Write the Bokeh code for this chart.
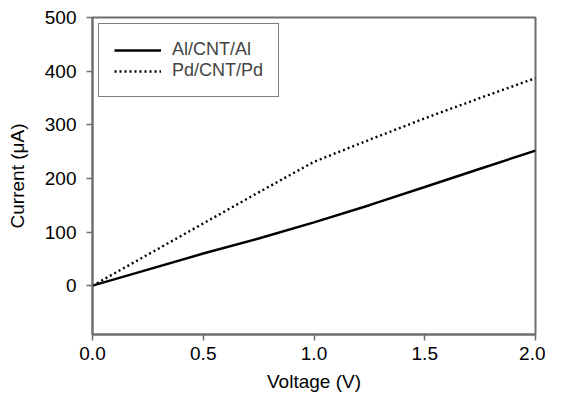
from bokeh.plotting import figure
from bokeh.models import FixedTicker, Range1d, Legend, LegendItem
from bokeh.embed import file_html
from bokeh.resources import INLINE

voltage = [0.0, 0.25, 0.5, 0.75, 1.0, 1.25, 1.5, 1.75, 2.0]
al_current = [0, 30, 60, 88, 118, 150, 184, 218, 252]
pd_current = [0, 58, 116, 174, 231, 272, 312, 350, 387]
x_ticks = [0.0, 0.5, 1.0, 1.5, 2.0]
y_ticks = [0, 100, 200, 300, 400, 500]

FONT = "Liberation Sans"
GRAY = "#6e6e6e"

p = figure(frame_width=443, frame_height=317, output_backend="svg", toolbar_location=None,
           x_range=Range1d(0, 2.0), y_range=Range1d(-91, 500),
           min_border_left=92, min_border_right=10, min_border_top=17, min_border_bottom=65)

r1 = p.line(voltage, al_current, line_color="black", line_width=2.4)
r2 = p.line(voltage, pd_current, line_color="black", line_width=2.4, line_dash="2 3")

p.xgrid.visible = False
p.ygrid.visible = False
p.background_fill_color = "white"
p.border_fill_color = "white"
p.outline_line_color = GRAY
p.outline_line_width = 2

p.xaxis.ticker = FixedTicker(ticks=x_ticks)
p.yaxis.ticker = FixedTicker(ticks=y_ticks)
p.xaxis.major_label_overrides = {0.0: "0.0", 0.5: "0.5", 1.0: "1.0", 1.5: "1.5", 2.0: "2.0"}
p.xaxis.axis_label = "Voltage (V)"
p.yaxis.axis_label = "Current (\u03bcA)"

for ax in (p.xaxis[0], p.yaxis[0]):
    ax.axis_line_color = GRAY
    ax.axis_line_width = 2
    ax.major_tick_line_color = GRAY
    ax.major_tick_line_width = 1.5
    ax.major_tick_out = 6
    ax.major_tick_in = 0
    ax.minor_tick_line_color = None
    ax.major_label_text_font = FONT
    ax.major_label_text_font_size = "19px"
    ax.major_label_text_color = "black"
    ax.axis_label_text_font = FONT
    ax.axis_label_text_font_size = "19px"
    ax.axis_label_text_font_style = "normal"
    ax.axis_label_text_color = "black"

p.xaxis[0].major_label_standoff = 6
p.xaxis[0].axis_label_standoff = 8
p.yaxis[0].major_label_standoff = 10
p.yaxis[0].axis_label_standoff = 14

legend = Legend(items=[LegendItem(label="Al/CNT/Al", renderers=[r1]),
                       LegendItem(label="Pd/CNT/Pd", renderers=[r2])],
                location="top_left")
legend.margin = 6
legend.padding = 15
legend.spacing = 0
legend.glyph_width = 47
legend.glyph_height = 18
legend.label_height = 18
legend.label_standoff = 11
legend.label_text_font = FONT
legend.label_text_font_size = "18px"
legend.border_line_color = "black"
legend.border_line_width = 1
legend.background_fill_alpha = 1
p.add_layout(legend)

open("out.html", "w").write(file_html(p, INLINE))
